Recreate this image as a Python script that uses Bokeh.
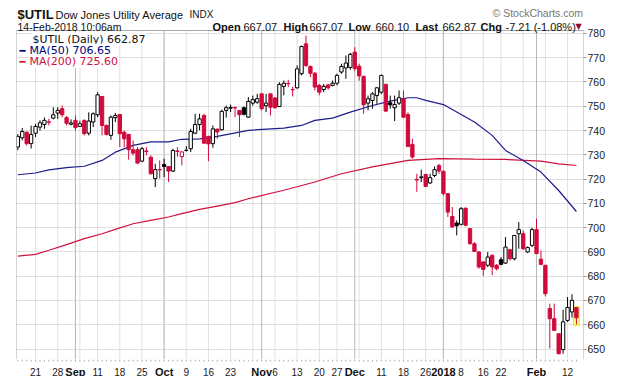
import pandas as pd
from bokeh.plotting import figure
from bokeh.layouts import column
from bokeh.models import ColumnDataSource, Range1d, FixedTicker, Label, Span
from bokeh.core.properties import value
from bokeh.embed import file_html
from bokeh.resources import INLINE

# ---------------- data ----------------
holidays = ["2017-09-04", "2017-11-23", "2017-12-25", "2018-01-01", "2018-01-15"]
trade_dates = [d for d in pd.bdate_range("2017-08-15", "2018-02-14")
               if d.strftime("%Y-%m-%d") not in holidays]

opens = [733.2, 737.0, 739.3, 734.6, 738.9, 741.4, 742.5, 743.6, 745.1, 747.2,
         749.0, 745.3, 742.6, 744.2, 741.7, 744.2, 738.9, 743.5, 746.5, 754.0,
         742.1, 738.0, 745.3, 746.6, 739.3, 738.4, 732.1, 732.1, 727.4, 731.6,
         729.0, 720.2, 723.9, 726.0, 725.2, 723.3, 731.6, 729.3, 731.8, 732.5,
         738.9, 742.5, 746.2, 737.6, 734.6, 740.6, 740.3, 748.3, 749.2, 749.5,
         748.3, 749.4, 745.5, 751.3, 751.7, 755.1, 750.2, 755.1, 753.4, 749.9,
         758.2, 759.4, 756.9, 757.6, 763.4, 775.7, 766.4, 763.6, 758.6, 756.9,
         758.8, 758.6, 759.5, 764.1, 765.8, 766.0, 772.3, 766.5, 762.3, 751.3,
         752.4, 754.4, 755.8, 759.0, 751.4, 749.4, 751.3, 753.1, 746.6, 734.3,
         719.9, 720.6, 721.9, 718.4, 721.5, 725.6, 723.2, 714.0, 704.6, 701.9,
         701.4, 708.0, 699.6, 693.4, 690.0, 685.9, 684.5, 688.6, 684.5, 686.8,
         685.4, 690.9, 687.2, 697.5, 697.5, 690.0, 692.7, 699.2, 687.0, 684.5,
         666.7, 662.5, 656.3, 649.8, 661.8, 665.3, 667.07]
highs = [738.5, 741.0, 739.6, 742.0, 742.8, 744.2, 745.4, 744.8, 749.6, 749.6,
         750.3, 746.0, 744.6, 746.2, 744.0, 744.5, 747.5, 747.5, 755.8, 754.0,
         742.5, 746.2, 747.2, 746.8, 740.0, 738.4, 735.9, 733.2, 733.2, 733.2,
         729.8, 726.3, 727.7, 728.4, 725.3, 732.5, 733.2, 731.5, 733.6, 740.7,
         746.9, 746.9, 746.9, 737.8, 742.1, 740.7, 748.6, 750.3, 750.7, 749.9,
         748.3, 749.9, 753.8, 754.4, 755.1, 755.1, 755.1, 755.1, 753.8, 759.9,
         760.6, 760.9, 758.0, 766.8, 775.0, 779.1, 766.8, 764.1, 759.2, 759.2,
         759.2, 760.6, 763.4, 767.5, 770.9, 772.0, 774.3, 767.5, 762.6, 754.4,
         755.8, 757.9, 763.1, 759.3, 754.4, 754.4, 756.5, 756.5, 747.5, 736.6,
         722.2, 723.9, 722.2, 722.2, 725.2, 726.3, 723.6, 714.3, 708.5, 703.0,
         708.5, 708.3, 699.8, 694.0, 690.3, 686.0, 690.0, 689.0, 685.0, 687.9,
         696.1, 691.3, 696.8, 702.3, 698.9, 692.3, 700.0, 703.7, 690.6, 684.5,
         668.7, 668.7, 656.3, 666.2, 671.4, 672.6, 667.07]
lows = [731.9, 736.0, 733.8, 732.6, 737.3, 740.0, 740.7, 742.1, 744.6, 744.8,
        745.5, 742.1, 742.1, 740.0, 741.5, 738.0, 738.0, 741.4, 745.5, 738.0,
        738.0, 736.2, 743.5, 733.2, 733.2, 728.0, 729.8, 726.3, 727.0, 729.8,
        721.9, 716.7, 720.2, 720.8, 718.8, 722.9, 729.2, 725.6, 731.3, 731.1,
        738.5, 740.1, 734.6, 727.4, 732.9, 736.6, 740.0, 745.3, 747.6, 745.5,
        737.3, 746.2, 745.3, 750.3, 751.0, 748.3, 747.6, 746.2, 749.0, 749.6,
        754.5, 757.9, 754.0, 757.2, 762.7, 766.1, 762.0, 756.5, 754.5, 755.8,
        756.8, 758.2, 758.6, 763.4, 761.3, 765.0, 764.5, 760.5, 746.9, 748.3,
        749.0, 751.0, 755.0, 747.6, 749.0, 743.9, 750.5, 745.2, 733.2, 728.4,
        714.7, 718.8, 716.7, 718.0, 720.8, 722.2, 713.3, 704.4, 700.0, 696.8,
        700.9, 700.5, 693.0, 690.0, 683.1, 680.1, 683.8, 680.4, 682.4, 684.5,
        685.1, 686.5, 686.5, 691.3, 690.9, 689.6, 692.0, 689.3, 684.5, 671.7,
        650.2, 657.7, 647.8, 648.1, 661.2, 663.0, 660.10]
closes = [737.6, 739.6, 734.6, 738.4, 741.7, 743.2, 744.2, 743.4, 746.5, 748.3,
          746.5, 743.0, 743.1, 741.2, 742.8, 738.7, 743.9, 746.9, 754.7, 742.1,
          738.4, 745.5, 746.2, 738.7, 736.6, 732.1, 730.7, 726.6, 732.5, 731.4,
          722.2, 723.9, 723.8, 725.2, 723.3, 731.8, 731.4, 731.2, 731.9, 739.6,
          742.5, 744.8, 734.8, 734.5, 740.7, 739.4, 747.9, 749.4, 749.5, 749.3,
          746.5, 746.7, 752.0, 752.7, 753.1, 749.0, 751.3, 749.6, 749.4, 759.0,
          759.5, 759.3, 756.8, 765.4, 774.6, 766.8, 763.6, 757.9, 755.8, 758.2,
          757.6, 759.5, 762.7, 766.4, 767.8, 771.4, 765.5, 762.5, 750.6, 753.1,
          755.1, 757.6, 762.7, 748.0, 750.6, 750.7, 753.5, 745.5, 733.4, 729.1,
          719.6, 720.9, 717.0, 720.6, 723.9, 723.3, 714.0, 706.4, 700.3, 700.8,
          707.8, 701.0, 693.4, 690.2, 683.8, 682.8, 687.9, 683.8, 683.1, 684.9,
          692.0, 687.2, 696.8, 699.2, 691.3, 691.8, 699.2, 689.3, 684.9, 672.8,
          662.5, 657.7, 648.1, 661.2, 667.1, 670.08, 662.87]

ma50_idx = [0, 4, 7, 11, 15, 19, 22, 26, 30, 34, 37, 41, 45, 52, 60, 64, 67, 71, 75,
            80, 84, 88, 90, 92, 96, 99, 103, 107, 110, 114, 118, 122, 126]
ma50_val = [721.8, 722.5, 723.8, 724.7, 725.3, 727.7, 731.1, 733.9, 735.3, 735.3, 736.4,
            736.6, 737.6, 740.1, 741.0, 742.1, 744.2, 745.1, 747.6, 750.3, 752.1, 753.5,
            753.5, 752.4, 750.7, 747.6, 743.5, 738.0, 731.8, 727.7, 722.9, 715.3, 706.65]

ma200_idx = [0, 4, 7, 11, 15, 19, 22, 26, 30, 34, 37, 41, 45, 49, 52, 60, 67, 73, 80,
             88, 95, 103, 110, 118, 122, 126]
ma200_val = [688.3, 689.0, 690.7, 693.0, 695.5, 697.5, 699.3, 701.6, 703.0, 704.4, 705.8,
             707.5, 708.9, 710.3, 711.9, 715.4, 718.8, 722.2, 725.0, 727.7, 728.4, 728.2,
             728.1, 727.4, 726.3, 725.6]

y_ticks = [650, 660, 670, 680, 690, 700, 710, 720, 730, 740, 750, 760, 770, 780]
day_label_dates = ["2017-08-21", "2017-08-28", "2017-09-11", "2017-09-18", "2017-09-25",
                   "2017-10-09", "2017-10-16", "2017-10-23", "2017-11-06", "2017-11-13",
                   "2017-11-20", "2017-11-27", "2017-12-11", "2017-12-18", "2017-12-26",
                   "2018-01-08", "2018-01-16", "2018-01-22", "2018-02-12"]
day_labels = ["21", "28", "11", "18", "25", "9", "16", "23", "6", "13",
              "20", "27", "11", "18", "26", "8", "16", "22", "12"]
month_label_dates = ["2017-09-01", "2017-10-02", "2017-11-01", "2017-12-01", "2018-01-02", "2018-02-01"]
month_labels = ["Sep", "Oct", "Nov", "Dec", "2018", "Feb"]

# ---------------- derived ----------------
date_str = [d.strftime("%Y-%m-%d") for d in trade_dates]
pos = {s: i for i, s in enumerate(date_str)}
idx = list(range(len(trade_dates)))

RED = "#d10a3c"
BLACK = "#000000"
colors, prev = [], None
for o, c in zip(opens, closes):
    colors.append(BLACK if (prev is None or c >= prev) else RED)
    prev = c
fills = [col if c < o else "white" for col, o, c in zip(colors, opens, closes)]
src = ColumnDataSource(dict(
    x=idx, h=highs, l=lows,
    top=[max(o, c) for o, c in zip(opens, closes)],
    bottom=[min(o, c) for o, c in zip(opens, closes)],
    color=colors, fill=fills))

week_idx, month_idx = [], []
for i, d in enumerate(trade_dates):
    if i == 0:
        continue
    if d.isocalendar()[1] != trade_dates[i - 1].isocalendar()[1]:
        week_idx.append(i)
    if d.month != trade_dates[i - 1].month:
        month_idx.append(i)

# ---------------- layout geometry ----------------
FW = 567          # plot area width
PH = 329          # plot area height
HEAD = 30         # header band height (inside the same frame, above the plot area)
FH = PH + HEAD
X_LO, X_HI = -0.3, 127.6
Y_LO, Y_HI = 645.7, 781.2
Y_TOP = Y_HI + HEAD * (Y_HI - Y_LO) / PH
xr = Range1d(X_LO, X_HI)

# ---------------- main chart ----------------
p = figure(frame_width=FW, frame_height=FH,
           min_border_left=16, min_border_right=37, min_border_top=0, min_border_bottom=0,
           x_range=xr, y_range=Range1d(Y_LO, Y_TOP),
           x_axis_location=None, y_axis_location="right",
           output_backend="svg", toolbar_location=None)
p.outline_line_color = None
p.background_fill_color = "white"
p.border_fill_color = "white"

p.xgrid.visible = False
p.ygrid.ticker = FixedTicker(ticks=y_ticks)
p.ygrid.grid_line_color = "#e0e0e0"

# vertical grid lines (weekly light, monthly darker), limited to the plot area
p.segment(x0=week_idx, y0=[Y_LO] * len(week_idx), x1=week_idx, y1=[Y_HI] * len(week_idx),
          line_color="#e0e0e0", line_width=1)
p.segment(x0=month_idx, y0=[Y_LO] * len(month_idx), x1=month_idx, y1=[Y_HI] * len(month_idx),
          line_color="#b8b8b8", line_width=1)

ya = p.yaxis[0]
ya.ticker = FixedTicker(ticks=y_ticks)
ya.major_tick_out = 3
ya.major_tick_in = 0
ya.minor_tick_line_color = None
ya.major_tick_line_color = "#999999"
ya.axis_line_color = None
ya.major_label_text_font = "Liberation Sans"
ya.major_label_text_font_size = "10.5px"
ya.major_label_text_color = "#222222"
ya.major_label_standoff = 1

p.line(ma200_idx, ma200_val, line_color="#d0103c", line_width=1.2)
p.line(ma50_idx, ma50_val, line_color="#1c1c8c", line_width=1.2)

last = idx[-1]
p.vbar(x=[last], top=[highs[-1] + 0.3], bottom=[lows[-1] - 0.3], width=1.3,
       fill_color="#ffff88", line_color="#e8e800")

p.segment(x0="x", y0="h", x1="x", y1="l", line_color="color", line_width=1, source=src)
p.vbar(x="x", top="top", bottom="bottom", width=0.75, fill_color="fill",
       line_color="color", line_width=1, source=src)

# plot-area border
p.add_layout(Span(location=Y_HI, dimension="width", line_color="#aaaaaa", line_width=1))
p.segment(x0=[X_LO, X_HI], y0=[Y_LO, Y_LO], x1=[X_LO, X_HI], y1=[Y_HI, Y_HI],
          line_color="#aaaaaa", line_width=1)
p.add_layout(Span(location=Y_LO, dimension="width", line_color="#bbbbbb", line_width=1))


def lab(text, x, top_px, size="11px", style="normal", color="#111111",
        font="Liberation Sans", bg=None):
    # x: page px; top_px: baseline, px from top of the figure
    p.add_layout(Label(x=x - 16, y=FH - top_px, x_units="screen", y_units="screen", text=text,
                       text_font=font, text_font_size=size, text_font_style=style,
                       text_color=color, text_align="left", text_baseline="alphabetic",
                       background_fill_color=bg))

# header (positions in page pixels)
lab("$UTIL", 17, 14, size="13px", style="bold")
lab("Dow Jones Utility Average", 55, 14, size="11px")
lab("INDX", 189, 14, size="10px")
lab("\u00a9 StockCharts.com", 492, 12.7, size="10.5px", color="#777777")
r2 = 26.5
lab("14-Feb-2018 10:06am", 17, r2, size="10.5px")
lab("Open", 212, r2, style="bold")
lab("667.07", 243, r2)
lab("High", 283, r2, style="bold")
lab("667.07", 309, r2)
lab("Low", 348, r2, style="bold")
lab("660.10", 375, r2)
lab("Last", 415, r2, style="bold")
lab("662.87", 442, r2)
lab("Chg", 480, r2, style="bold")
lab("-7.21 (-1.08%)", 505, r2)
lab("\u25bc", 575, r2 - 0.5, size="8px", color="#990033", font="DejaVu Sans")

# legend inside the plot area
lab("$UTIL (Daily) 662.87", 32, 38.5, size="11px", font="DejaVu Sans", bg="white")
lab("\u2501", 19, 49.7, size="10px", color="#000080", font="DejaVu Sans")
lab("MA(50) 706.65", 29, 49.7, size="11px", color="#000080", font="DejaVu Sans", bg="white")
lab("\u2501", 19, 60.7, size="10px", color="#d0103c", font="DejaVu Sans")
lab("MA(200) 725.60", 29, 60.7, size="11px", color="#d0103c", font="DejaVu Sans", bg="white")

# ---------------- date strip ----------------
BH = 17
ftr = figure(frame_width=FW, frame_height=BH,
             min_border_left=16, min_border_right=37, min_border_top=0, min_border_bottom=0,
             x_range=xr, y_range=Range1d(0, BH), x_axis_location=None, y_axis_location=None,
             output_backend="svg", toolbar_location=None)
ftr.outline_line_color = None
ftr.xgrid.visible = False
ftr.ygrid.visible = False
ftr.segment(x0=idx, y0=[BH] * len(idx), x1=idx, y1=[BH - 2] * len(idx),
            line_color="#aaaaaa", line_width=1)
dsrc = ColumnDataSource(dict(x=[pos[s] for s in day_label_dates], y=[5] * len(day_labels),
                             t=day_labels))
ftr.text(x="x", y="y", text="t", source=dsrc, text_align="center", text_baseline="alphabetic",
         text_font=value("Liberation Sans"), text_font_size="10px", text_color="#222222")
msrc = ColumnDataSource(dict(x=[pos[s] for s in month_label_dates], y=[5] * len(month_labels),
                             t=month_labels))
ftr.text(x="x", y="y", text="t", source=msrc, text_align="center", text_baseline="alphabetic",
         text_font=value("Liberation Sans"), text_font_size="11px", text_font_style="bold",
         text_color="#111111")

layout = column(p, ftr, spacing=0)
open("out.html", "w").write(file_html(layout, INLINE))
